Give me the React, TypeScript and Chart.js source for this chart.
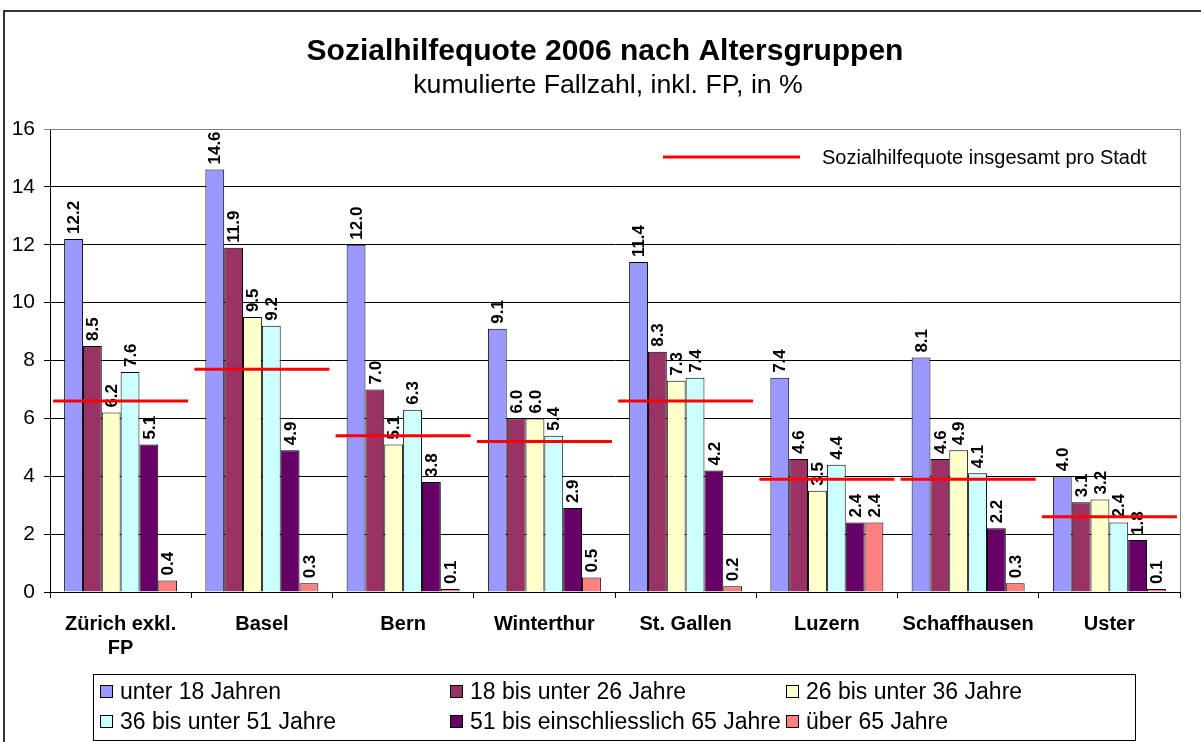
import React, { useEffect, useRef } from 'react';
import { Chart, registerables } from 'chart.js';

Chart.register(...registerables);

const FONT = "'Liberation Sans', Arial, Helvetica, sans-serif";

const titleText = 'Sozialhilfequote 2006 nach Altersgruppen';
const subtitleText = 'kumulierte Fallzahl, inkl. FP, in %';
const totalLabel = 'Sozialhilfequote insgesamt pro Stadt';

const categories = [['Zürich exkl.', 'FP'], 'Basel', 'Bern', 'Winterthur', 'St. Gallen', 'Luzern', 'Schaffhausen', 'Uster'];

const seriesNames = [
  'unter 18 Jahren',
  '18 bis unter 26 Jahre',
  '26 bis unter 36 Jahre',
  '36 bis unter 51 Jahre',
  '51 bis einschliesslich 65 Jahre',
  'über 65 Jahre',
];

const unter18 = [12.2, 14.6, 12.0, 9.1, 11.4, 7.4, 8.1, 4.0];
const von18bis26 = [8.5, 11.9, 7.0, 6.0, 8.3, 4.6, 4.6, 3.1];
const von26bis36 = [6.2, 9.5, 5.1, 6.0, 7.3, 3.5, 4.9, 3.2];
const von36bis51 = [7.6, 9.2, 6.3, 5.4, 7.4, 4.4, 4.1, 2.4];
const von51bis65 = [5.1, 4.9, 3.8, 2.9, 4.2, 2.4, 2.2, 1.8];
const ueber65 = [0.4, 0.3, 0.1, 0.5, 0.2, 2.4, 0.3, 0.1];

const quoteInsgesamt = [6.6, 7.7, 5.4, 5.2, 6.6, 3.9, 3.9, 2.6];

const seriesColors = ['#9999FF', '#993366', '#FFFFCC', '#CCFFFF', '#660066', '#FF8080'];

const yMin = 0;
const yMax = 16;
const yStep = 2;

const decorPlugin = {
  id: 'decor',
  beforeDraw(chart: any) {
    const ctx = chart.ctx;
    ctx.save();
    ctx.fillStyle = '#ffffff';
    ctx.fillRect(0, 0, chart.width, chart.height);
    // outer frame
    ctx.strokeStyle = '#333333';
    ctx.lineWidth = 2;
    ctx.beginPath();
    ctx.moveTo(4, chart.height + 2);
    ctx.lineTo(4, 11);
    ctx.lineTo(chart.width + 2, 11);
    ctx.stroke();
    // title + subtitle
    ctx.fillStyle = '#000';
    ctx.textAlign = 'center';
    ctx.textBaseline = 'alphabetic';
    ctx.font = `bold 30px ${FONT}`;
    ctx.fillText(titleText, 605, 60);
    ctx.font = `26.7px ${FONT}`;
    ctx.fillText(subtitleText, 608, 93);
    ctx.restore();
  },
  beforeDatasetsDraw(chart: any) {
    const ctx = chart.ctx;
    const { left, right, top, bottom } = chart.chartArea;
    ctx.save();
    ctx.strokeStyle = '#808080';
    ctx.lineWidth = 1;
    ctx.beginPath();
    ctx.moveTo(left, top + 0.5);
    ctx.lineTo(right + 0.5, top + 0.5);
    ctx.lineTo(right + 0.5, bottom);
    ctx.stroke();
    ctx.restore();
  },
  afterDatasetsDraw(chart: any) {
    const ctx = chart.ctx;
    const xs = chart.scales.x;
    const ys = chart.scales.y;
    ctx.save();
    // value labels, rotated
    ctx.fillStyle = '#000';
    ctx.font = `bold 17px ${FONT}`;
    ctx.textAlign = 'left';
    ctx.textBaseline = 'middle';
    chart.data.datasets.forEach((ds: any, di: number) => {
      const meta = chart.getDatasetMeta(di);
      meta.data.forEach((bar: any, i: number) => {
        const v = ds.data[i];
        ctx.save();
        ctx.translate(bar.x + 1, bar.y - 5);
        ctx.rotate(-Math.PI / 2);
        ctx.fillText(Number(v).toFixed(1), 0, 0);
        ctx.restore();
      });
    });
    // red total lines
    const catW = xs.getPixelForValue(1) - xs.getPixelForValue(0);
    ctx.strokeStyle = '#FF0000';
    ctx.lineWidth = 3;
    quoteInsgesamt.forEach((v, i) => {
      const cx = xs.getPixelForValue(i);
      const py = ys.getPixelForValue(v);
      ctx.beginPath();
      ctx.moveTo(cx - catW * 0.478, py);
      ctx.lineTo(cx + catW * 0.478, py);
      ctx.stroke();
    });
    // inner legend for red line
    ctx.beginPath();
    ctx.moveTo(663, 157);
    ctx.lineTo(800, 157);
    ctx.stroke();
    ctx.fillStyle = '#000';
    ctx.font = `20px ${FONT}`;
    ctx.textAlign = 'left';
    ctx.textBaseline = 'middle';
    ctx.fillText(totalLabel, 822, 158);

    // bottom legend box
    ctx.strokeStyle = '#000';
    ctx.lineWidth = 1;
    ctx.strokeRect(93.5, 674.5, 1042, 66);
    const colX = [100, 450, 786];
    const rowY = [692, 722];
    ctx.font = `23px ${FONT}`;
    chart.data.datasets.forEach((ds: any, di: number) => {
      const col = di % 3;
      const row = Math.floor(di / 3);
      const sx = colX[col];
      const sy = rowY[row];
      ctx.fillStyle = ds.backgroundColor;
      ctx.fillRect(sx + 0.5, sy - 6.5, 12, 12);
      ctx.strokeStyle = '#000';
      ctx.strokeRect(sx + 0.5, sy - 6.5, 12, 12);
      ctx.fillStyle = '#000';
      ctx.fillText(ds.label, sx + 20, sy + 1);
    });
    ctx.restore();
  },
};

export default function App() {
  const ref = useRef<HTMLCanvasElement>(null);
  useEffect(() => {
    const canvas = ref.current;
    if (!canvas) return;
    const seriesValues = [unter18, von18bis26, von26bis36, von36bis51, von51bis65, ueber65];
    const datasets = seriesValues.map((data, i) => ({
      label: seriesNames[i],
      data,
      backgroundColor: seriesColors[i],
      borderColor: '#000000',
      borderWidth: 1,
      categoryPercentage: 0.8,
      barPercentage: 1.0,
    }));
    const chart = new Chart(canvas, {
      type: 'bar',
      data: { labels: categories as any, datasets },
      options: {
        animation: false,
        responsive: true,
        maintainAspectRatio: false,
        layout: { padding: { top: 129, right: 21, left: 0, bottom: 0 } },
        plugins: {
          legend: { display: false },
          title: { display: false },
          tooltip: { enabled: false },
        },
        scales: {
          x: {
            ticks: {
              font: { family: FONT, size: 20, weight: 'bold' },
              color: '#000',
              padding: 14,
              maxRotation: 0,
              autoSkip: false,
            },
            grid: {
              offset: true,
              drawOnChartArea: false,
              drawTicks: true,
              tickLength: 6,
              color: '#000',
            },
            border: { color: '#000', width: 1 },
            afterFit: (s: any) => {
              s.height = 150;
            },
          },
          y: {
            min: yMin,
            max: yMax,
            ticks: {
              stepSize: yStep,
              font: { family: FONT, size: 21 },
              color: '#000',
              padding: 9,
            },
            grid: {
              color: (c: any) => (c.tick && c.tick.value === yMax ? '#808080' : '#000000'),
              lineWidth: 1,
              tickLength: 6,
              drawTicks: true,
            },
            border: { color: '#000', width: 1 },
            afterFit: (s: any) => {
              s.width = 50;
            },
          },
        },
      },
      plugins: [decorPlugin],
    });
    return () => chart.destroy();
  }, []);
  return (
    <div style={{ position: 'fixed', left: 0, top: 0, width: 1201, height: 742, background: '#fff' }}>
      <canvas ref={ref} />
    </div>
  );
}
